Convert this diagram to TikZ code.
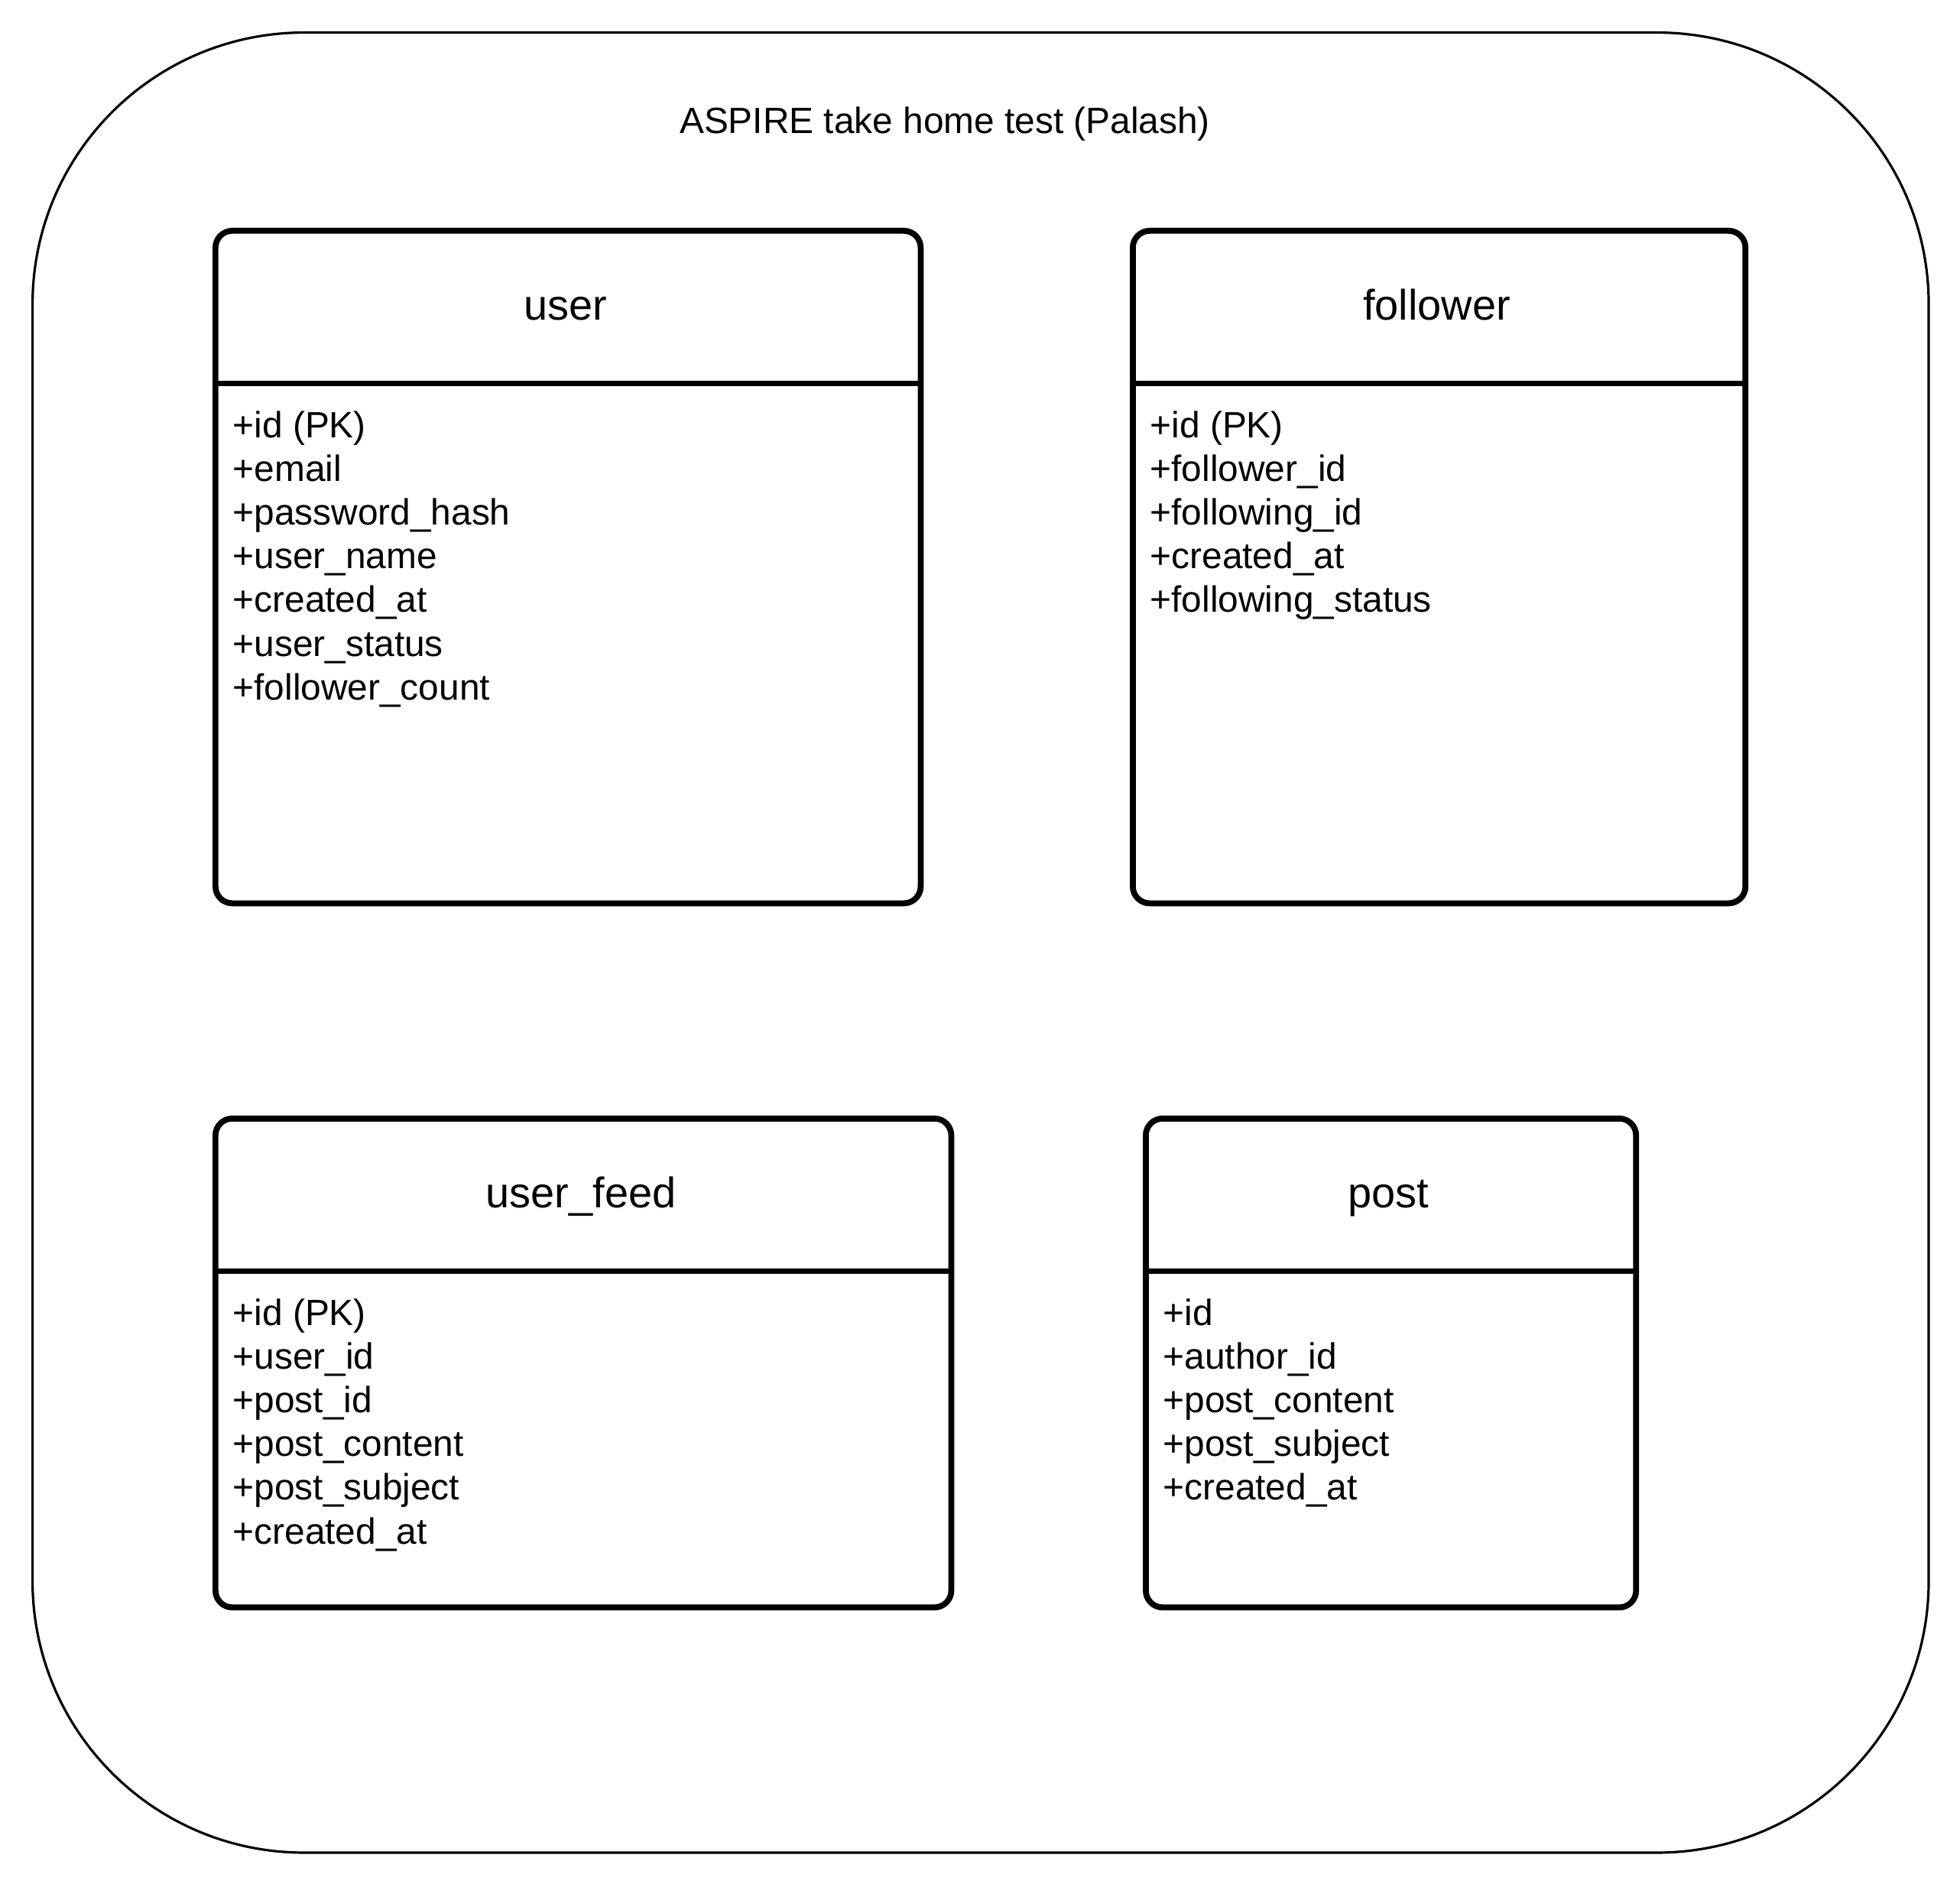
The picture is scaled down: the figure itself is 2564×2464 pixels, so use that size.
\documentclass[tikz,border=0pt]{standalone}
\usepackage{fontspec}
\setmainfont{Liberation Sans}
\usetikzlibrary{positioning}
\usetikzlibrary{calc}

\begin{document}
\begin{tikzpicture}[
  x=0.01cm, y=-0.01cm,
  frame/.style={
    draw, line width=0.9pt, rounded corners=3.55cm,
    minimum width=24.79cm, minimum height=23.79cm,
    inner sep=0pt, anchor=north west},
  tbl/.style 2 args={
    draw, line width=2.2pt, rounded corners=0.22cm,
    minimum width=#1, minimum height=#2,
    inner sep=0pt, anchor=north west},
  head/.style={
    minimum width=#1, minimum height=2.02cm,
    text height=0.53cm, text depth=0.16cm,
    inner sep=0pt, anchor=north west,
    font=\fontsize{15.9pt}{19pt}\selectfont},
  attr/.style={
    inner sep=0pt, anchor=base west,
    font=\fontsize{13.6pt}{16.3pt}\selectfont},
  ttl/.style={
    inner sep=0pt, anchor=base,
    font=\fontsize{13.6pt}{16.3pt}\selectfont},
  sep/.style={line width=2.2pt},
]

  \def\lnsep{57.2}%
  \def\topbase{572}%
  \def\botbase{1733}%

  \useasboundingbox (0,0) rectangle (2564,2464);

  % Outer frame
  \node[frame] (frame) at (41,41) {};
  \node[ttl] (title) at (1236,175) {ASPIRE take home test (Palash)};

  % user
  \node[tbl={9.22cm}{8.79cm}] (user) at (278,298) {};
  \node[head=9.22cm] (user_head) at (user.north west) {user};
  \draw[sep] (user_head.south west) -- (user_head.south east);
  \foreach \a [count=\i from 0] in {+id (PK), +email, +password\_hash,
      +user\_name, +created\_at, +user\_status, +follower\_count} {
    \node[attr] (user_a\i) at (304, \topbase+\lnsep*\i) {\a};
  }

  % follower
  \node[tbl={8.01cm}{8.79cm}] (follower) at (1478,298) {};
  \node[head=8.01cm] (follower_head) at (follower.north west) {follower};
  \draw[sep] (follower_head.south west) -- (follower_head.south east);
  \foreach \a [count=\i from 0] in {+id (PK), +follower\_id, +following\_id,
      +created\_at, +following\_status} {
    \node[attr] (follower_a\i) at (1504, \topbase+\lnsep*\i) {\a};
  }

  % user_feed
  \node[tbl={9.62cm}{6.39cm}] (feed) at (278,1459) {};
  \node[head=9.62cm] (feed_head) at (feed.north west) {user\_feed};
  \draw[sep] (feed_head.south west) -- (feed_head.south east);
  \foreach \a [count=\i from 0] in {+id (PK), +user\_id, +post\_id,
      +post\_content, +post\_subject, +created\_at} {
    \node[attr] (feed_a\i) at (304, \botbase+\lnsep*\i) {\a};
  }

  % post
  \node[tbl={6.41cm}{6.39cm}] (post) at (1495,1459) {};
  \node[head=6.41cm] (post_head) at (post.north west) {post};
  \draw[sep] (post_head.south west) -- (post_head.south east);
  \foreach \a [count=\i from 0] in {+id, +author\_id, +post\_content,
      +post\_subject, +created\_at} {
    \node[attr] (post_a\i) at (1521, \botbase+\lnsep*\i) {\a};
  }

\end{tikzpicture}
\end{document}
